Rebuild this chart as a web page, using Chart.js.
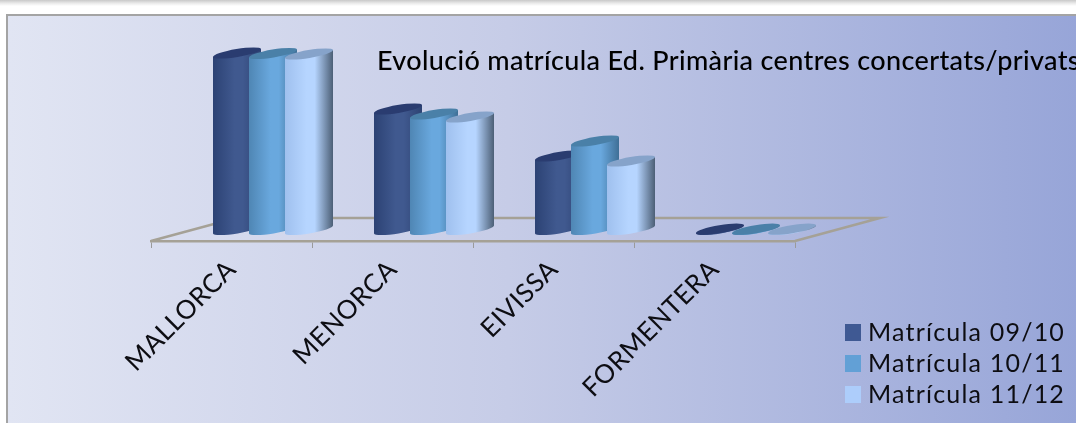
<!DOCTYPE html>
<html>
<head>
<meta charset="utf-8">
<script src="https://cdn.jsdelivr.net/npm/chart.js@4"></script>
<style>
    html, body { margin: 0; padding: 0; width: 1076px; height: 423px; overflow: hidden; background: #fff; }
    #shadow { position: absolute; left: 0; top: 0; width: 1076px; height: 6px; background: linear-gradient(to bottom, #c8c8c8, #e8e8e8 50%, #fff); }
    #panel { position: absolute; left: 6px; top: 14px; width: 1100px; height: 440px; border: 2px solid #a4a4a4;
        background: linear-gradient(to right, #e1e5f3 0, #c6cce7 500px, #97a5d8 1070px); }
    canvas { position: absolute; left: 0; top: 0; }
</style>
</head>
<body>
<div id="shadow"></div>
<div id="panel"></div>
<canvas id="chart" width="1076" height="423"></canvas>
<script>
// Dades
const categories = ['MALLORCA', 'MENORCA', 'EIVISSA', 'FORMENTERA'];
const matricula0910 = [17650, 12050, 7350, 40];
const matricula1011 = [17600, 11550, 8850, 30];
const matricula1112 = [17550, 11250, 6850, 30];
const seriesLabels = ['Matrícula 09/10', 'Matrícula 10/11', 'Matrícula 11/12'];
const chartTitle = 'Evolució matrícula Ed. Primària centres concertats/privats';

// Colors de cada cilindre: esquerra, centre, dreta, tapa
const seriesColors = ['#3f5993', '#62a0d6', '#adcdfb'];
const cylinderShades = [
    ['#2c4274', '#40598f', '#2d4272', '#2a3c70'],
    ['#4f86b4', '#69a8de', '#3f6f96', '#4a80a8'],
    ['#9fc0ee', '#b6d5ff', '#4c5f76', '#86a3ca']
];

// Profunditat del terra (en píxels)
const floorDepth = { x: 85, y: -23 };
const tiltY = 4;
const minorRadius = 4;
const textColor = '#0d0d12';

function drawCylinder(ctx, cx, topY, baseY, w, shades) {
    const left = cx - w / 2;
    const right = cx + w / 2;
    const angle = Math.atan2(-tiltY * 2, w);
    const rx = Math.sqrt(w * w / 4 + tiltY * tiltY);

    const grad = ctx.createLinearGradient(left, 0, right, 0);
    grad.addColorStop(0, shades[0]);
    grad.addColorStop(0.45, shades[1]);
    grad.addColorStop(0.62, shades[1]);
    grad.addColorStop(1, shades[2]);

    ctx.beginPath();
    ctx.moveTo(left, topY + tiltY);
    ctx.lineTo(left, baseY + tiltY);
    ctx.ellipse(cx, baseY, rx, minorRadius, angle, Math.PI, 0, true);
    ctx.lineTo(right, topY - tiltY);
    ctx.closePath();
    ctx.fillStyle = grad;
    ctx.fill();

    ctx.beginPath();
    ctx.ellipse(cx, topY, rx, minorRadius, angle, 0, Math.PI * 2);
    ctx.fillStyle = shades[3];
    ctx.fill();
}

// Dibuixa els cilindres en lloc de les barres (la darrera sèrie queda davant)
const cylinderBars = {
    id: 'cylinderBars',
    beforeDatasetsDraw(chart) {
        const ctx = chart.ctx;
        ctx.save();
        chart.data.datasets.forEach((ds, i) => {
            chart.getDatasetMeta(i).data.forEach(bar => {
                const w = bar.width * 4 / 3;
                const cx = bar.x + floorDepth.x / 2 - 1;
                const topY = bar.y + floorDepth.y / 2;
                const baseY = bar.base + floorDepth.y / 2;
                drawCylinder(ctx, cx, topY, baseY, w, cylinderShades[i]);
            });
        });
        ctx.restore();
    },
    beforeDatasetDraw() {
        return false;
    }
};

// Terra, títol i llegenda
const chartDecor = {
    id: 'chartDecor',
    beforeDraw(chart) {
        chart.ctx.letterSpacing = '0.5px';
    },
    beforeDatasetsDraw(chart) {
        const ctx = chart.ctx;
        const area = chart.chartArea;
        ctx.save();
        ctx.strokeStyle = '#a5a196';
        ctx.lineWidth = 2.5;
        ctx.beginPath();
        ctx.moveTo(area.left, area.bottom);
        ctx.lineTo(area.left + floorDepth.x, area.bottom + floorDepth.y);
        ctx.lineTo(area.right + floorDepth.x, area.bottom + floorDepth.y);
        ctx.lineTo(area.right, area.bottom);
        ctx.stroke();
        ctx.restore();
    },
    afterDraw(chart) {
        const ctx = chart.ctx;
        ctx.save();
        ctx.fillStyle = '#000';
        ctx.font = '500 27px Lato';
        ctx.letterSpacing = '0.35px';
        ctx.textBaseline = 'alphabetic';
        ctx.fillText(chartTitle, 377, 70);

        ctx.font = '400 25px Lato';
        ctx.letterSpacing = '1.2px';
        chart.data.datasets.forEach((ds, i) => {
            const y = 332 + i * 31;
            ctx.fillStyle = ds.backgroundColor;
            ctx.fillRect(845, y - 8, 16, 17);
            ctx.fillStyle = textColor;
            ctx.fillText(ds.label, 868, y + 9);
        });
        ctx.restore();
    }
};

new Chart(document.getElementById('chart'), {
    type: 'bar',
    data: {
        labels: categories,
        datasets: [
            { label: seriesLabels[0], data: matricula0910, backgroundColor: seriesColors[0] },
            { label: seriesLabels[1], data: matricula1011, backgroundColor: seriesColors[1] },
            { label: seriesLabels[2], data: matricula1112, backgroundColor: seriesColors[2] }
        ]
    },
    options: {
        responsive: false,
        animation: false,
        categoryPercentage: 108 / 161,
        barPercentage: 1,
        layout: { padding: { left: 151, right: 281, top: 41, bottom: 0 } },
        plugins: {
            legend: { display: false },
            title: { display: false },
            tooltip: { enabled: false }
        },
        scales: {
            y: { display: false, min: 0, max: 20000 },
            x: {
                afterFit(scale) { scale.height = 182; },
                border: { color: '#a5a196', width: 2.5 },
                grid: { drawOnChartArea: false, color: '#9a9a9a', tickLength: 7 },
                ticks: {
                    color: textColor,
                    font: { family: 'Lato', size: 26, weight: '400' },
                    minRotation: 45,
                    maxRotation: 45,
                    padding: 6
                }
            }
        }
    },
    plugins: [chartDecor, cylinderBars]
});
</script>
</body>
</html>
